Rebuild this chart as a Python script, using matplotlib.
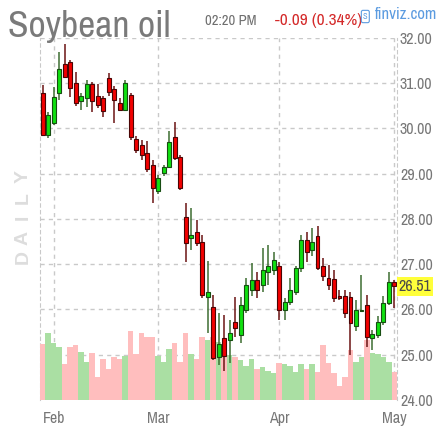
import matplotlib
matplotlib.use("Agg")
import matplotlib.pyplot as plt
import numpy as np

# daily bars, 30 Jan .. 1 May (x = trading day index)
opens = [30.77, 29.85, 30.12, 30.78, 31.42, 31.46, 31.00, 30.60, 30.67, 30.98,
         30.71, 30.67, 31.11, 30.87, 30.56, 30.40, 30.74, 29.76, 29.63, 29.45,
         29.19, 28.62, 29.01, 29.15, 29.81, 29.37, 28.04, 27.58, 27.71, 27.49,
         26.28, 26.05, 24.95, 25.37, 25.33, 25.72, 25.44, 25.99, 26.43, 26.65,
         26.54, 26.83, 26.88, 26.96, 25.99, 26.17, 26.39, 26.92, 27.53, 27.31,
         27.62, 26.96, 26.70, 26.67, 26.30, 26.30, 26.28, 25.64, 25.96, 26.10,
         25.37, 25.44, 25.72, 26.14, 26.60]
highs = [30.96, 30.36, 30.91, 31.68, 31.86, 31.51, 31.24, 30.78, 31.07, 31.02,
         30.98, 30.71, 31.22, 30.93, 30.67, 31.07, 30.78, 29.83, 29.74, 29.72,
         29.30, 28.97, 29.19, 29.94, 30.14, 29.41, 28.35, 28.24, 27.98, 27.64,
         27.06, 26.32, 25.92, 25.88, 25.77, 26.28, 26.28, 26.70, 27.03, 26.83,
         27.36, 27.42, 27.27, 27.05, 26.25, 26.70, 26.96, 27.64, 27.71, 27.80,
         27.84, 27.14, 26.98, 26.88, 26.43, 26.43, 26.39, 26.21, 26.76, 26.32,
         25.55, 25.86, 26.30, 26.83, 26.65]
lows = [29.83, 29.78, 30.07, 30.62, 31.11, 30.69, 30.49, 30.40, 30.47, 30.36,
        30.45, 30.25, 30.71, 30.12, 30.38, 30.38, 29.74, 29.45, 29.30, 29.04,
        28.35, 28.55, 28.95, 29.12, 29.30, 28.64, 27.05, 27.31, 27.40, 26.25,
        25.48, 24.89, 24.77, 24.64, 24.82, 25.39, 25.26, 25.92, 26.30, 26.25,
        26.39, 26.54, 26.76, 25.77, 25.77, 26.10, 26.32, 26.83, 27.05, 27.18,
        26.88, 26.63, 26.43, 26.17, 26.21, 25.81, 25.00, 25.53, 25.94, 25.17,
        25.10, 25.37, 25.66, 26.10, 26.03]
closes = [29.85, 30.29, 30.70, 31.31, 31.13, 30.89, 30.56, 30.71, 30.98, 30.60,
          30.51, 30.38, 30.80, 30.62, 30.40, 31.00, 29.81, 29.52, 29.41, 29.10,
          28.68, 28.90, 29.15, 29.70, 29.34, 28.68, 27.47, 27.64, 27.47, 26.32,
          26.39, 24.93, 25.24, 24.97, 25.48, 25.59, 26.10, 26.54, 26.65, 26.43,
          26.88, 26.96, 27.09, 25.99, 26.17, 26.43, 26.92, 27.53, 27.27, 27.49,
          26.92, 26.74, 26.54, 26.25, 26.25, 25.92, 25.70, 25.99, 25.99, 25.39,
          25.46, 25.72, 26.14, 26.60, 26.51]
# volume, thousand contracts
volume = [168, 201, 171, 159, 108, 159, 165, 144, 114, 141, 69, 123, 93, 129, 123,
          132, 207, 138, 201, 189, 189, 132, 114, 153, 171, 114, 201, 138, 123, 189,
          180, 189, 174, 144, 135, 129, 120, 102, 123, 93, 99, 87, 81, 111, 108,
          102, 84, 108, 93, 108, 84, 165, 111, 81, 42, 69, 150, 114, 129, 180,
          141, 138, 129, 114, 84]

month_pos = [2, 21, 43, 64]
month_labels = ["Feb", "Mar", "Apr", "May"]
price_ticks = [24, 25, 26, 27, 28, 29, 30, 31, 32]

title = "Soybean oil"
time_text = "02:20 PM"
change_text = "-0.09 (0.34%)"
last_price = closes[-1]

FONT = ["Archivo Narrow", "DejaVu Sans"]
GRAY = "#777777"
GRID = "#c9c9c9"

x = np.arange(len(closes))
up = [c >= o for o, c in zip(opens, closes)]

fig = plt.figure(figsize=(4.37, 4.28), dpi=100)
rect = [40 / 437, 1 - 400 / 428, 357.2 / 437, 362.3 / 428]

# bottom layer: grid, labels
ax = fig.add_axes(rect)
ax.set_xlim(-0.5, len(closes) - 0.5)
ax.set_ylim(24, 32)
for s in ["top", "bottom"]:
    ax.spines[s].set_visible(False)
for s in ["left", "right"]:
    ax.spines[s].set_linestyle((0, (3, 3)))
    ax.spines[s].set_color(GRID)
ax.set_yticks(price_ticks)
ax.set_yticklabels(["%.2f" % t for t in price_ticks])
ax.yaxis.tick_right()
ax.set_xticks(month_pos)
ax.set_xticklabels(month_labels)
ax.tick_params(axis="y", length=0, pad=2, labelsize=11.5, labelcolor=GRAY)
ax.tick_params(axis="x", length=0, pad=8, labelsize=11.5, labelcolor=GRAY)
for lab in ax.get_xticklabels() + ax.get_yticklabels():
    lab.set_family(FONT)
for t in price_ticks[1:]:
    ax.axhline(t, color=GRID, lw=1, ls=(0, (3, 3)))
for m in month_pos:
    ax.axvline(m, color=GRID, lw=1, ls=(0, (3, 3)))

# volume layer
axv = fig.add_axes(rect, sharex=ax)
axv.set_ylim(0, 1087)
axv.axis("off")
axv.patch.set_alpha(0)
axv.bar(x, volume, width=1.0, color=["#aadfa3" if u else "#ffbebe" for u in up],
        linewidth=0)

# candles layer
axc = fig.add_axes(rect, sharex=ax, sharey=ax)
axc.axis("off")
axc.patch.set_alpha(0)
wick_col = ["#3d6e31" if u else "#6b1414" for u in up]
axc.vlines(x, lows, highs, colors=wick_col, lw=1.1, zorder=1)
body_bottom = [min(o, c) for o, c in zip(opens, closes)]
body_height = [max(abs(c - o), 0.03) for o, c in zip(opens, closes)]
axc.bar(x, body_height, bottom=body_bottom, width=0.72,
        color=["#10e010" if u else "#f20000" for u in up],
        edgecolor=["#174d12" if u else "#4a0505" for u in up],
        linewidth=0.8, zorder=2)

# last price marker
axc.text(1.004, last_price, "%.2f" % last_price, transform=axc.get_yaxis_transform(),
         ha="left", va="center", fontsize=11.5, family=FONT, color="#4a4a4a",
         bbox=dict(boxstyle="square,pad=0.12", fc="#ffff3a", ec="none"), clip_on=False)

# header texts
fig.text(8 / 437, 1 - 37 / 428, title, fontsize=27, family=FONT, color="#7a7a7a",
         va="baseline", ha="left")
fig.text(205 / 437, 1 - 25 / 428, time_text, fontsize=10.5, family=FONT,
         color="#6e6e6e", va="baseline")
fig.text(275 / 437, 1 - 25 / 428, change_text, fontsize=12.5, family=FONT,
         color="#d42a2a", va="baseline")
fig.text(363 / 437, 1 - 19 / 428, "S", fontsize=6, family=FONT, color="#5b9be0",
         va="baseline", ha="left",
         bbox=dict(boxstyle="round,pad=0.2", fc="white", ec="#5b9be0", lw=0.8))
fig.text(375 / 437, 1 - 19 / 428, "finviz.com", fontsize=12, family=FONT,
         color="#5b9be0", va="baseline")

# watermark
for letter, yc in zip("DAILY", [257, 238, 217, 198, 176]):
    fig.text(23 / 437, 1 - yc / 428, letter, rotation=90, fontsize=14,
             fontweight="bold", family=["Liberation Sans", "DejaVu Sans"],
             color="#dddddd", ha="center", va="center")

fig.savefig("out.png", dpi=100)
